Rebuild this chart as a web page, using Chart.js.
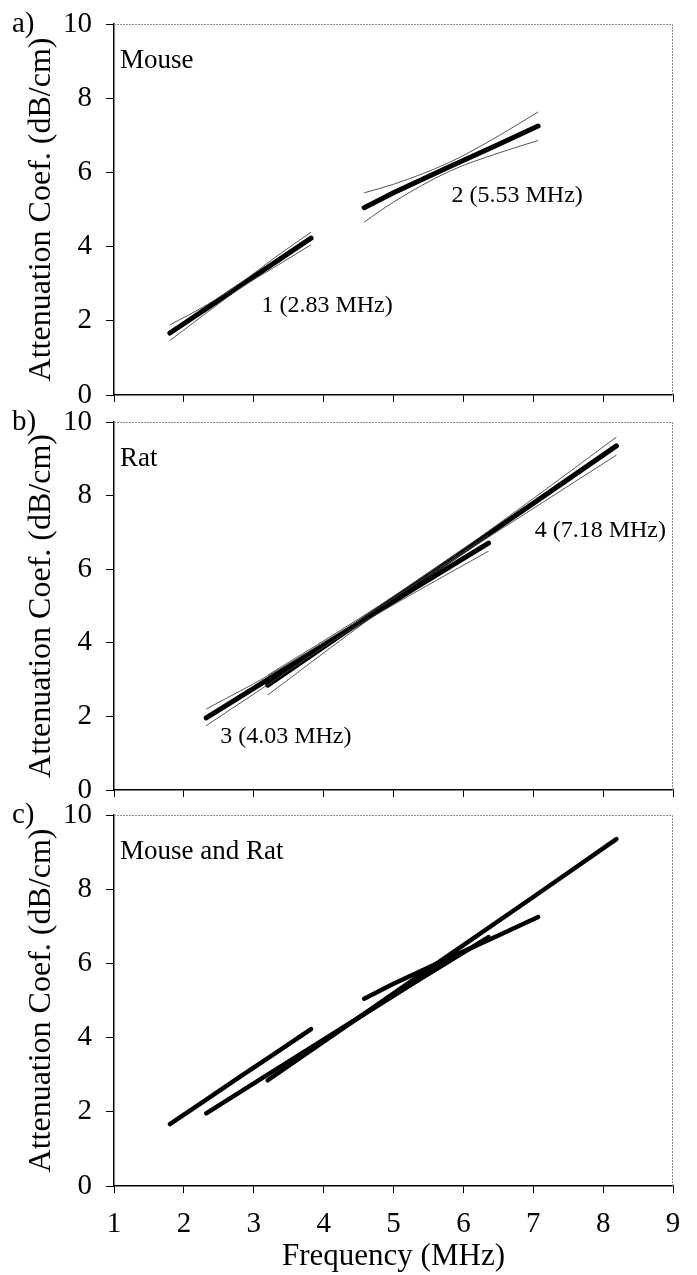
<!DOCTYPE html>
<html><head><meta charset="utf-8">
<script src="https://cdn.jsdelivr.net/npm/chart.js@4/dist/chart.umd.min.js"></script>
<style>
html,body{margin:0;padding:0;background:#fff;width:697px;height:1275px;overflow:hidden}
canvas{position:absolute;left:0}
</style></head><body>
<canvas id="ca" width="697" height="410" style="top:0px"></canvas>
<canvas id="cb" width="697" height="410" style="top:400px"></canvas>
<canvas id="cc" width="697" height="480" style="top:795px"></canvas>
<script>
// ---- data ----
const xTicks = [1, 2, 3, 4, 5, 6, 7, 8, 9];
const yTicks = [0, 2, 4, 6, 8, 10];
// Mouse, 1 (2.83 MHz)
const m1X  = [1.80, 2.30, 2.80, 3.30, 3.82];
const m1Y  = [1.67, 2.30, 2.94, 3.57, 4.23];
const m1Up = [1.89, 2.40, 3.00, 3.70, 4.39];
const m1Lo = [1.47, 2.18, 2.87, 3.45, 4.05];
// Mouse, 2 (5.53 MHz)
const m2X  = [4.58, 5.00, 5.80, 6.50, 7.07];
const m2Y  = [5.05, 5.45, 6.15, 6.75, 7.25];
const m2Up = [5.45, 5.68, 6.27, 6.98, 7.63];
const m2Lo = [4.66, 5.20, 6.03, 6.52, 6.86];
// Rat, 3 (4.03 MHz)
const r3X  = [2.32, 3.20, 4.30, 5.30, 6.36];
const r3Y  = [1.96, 3.00, 4.30, 5.48, 6.71];
const r3Up = [2.20, 3.10, 4.36, 5.58, 6.93];
const r3Lo = [1.75, 2.86, 4.25, 5.36, 6.49];
// Rat, 4 (7.18 MHz)
const r4X  = [3.20, 4.50, 5.70, 7.00, 8.19];
const r4Y  = [2.85, 4.54, 6.10, 7.79, 9.35];
const r4Up = [3.12, 4.65, 6.15, 7.92, 9.59];
const r4Lo = [2.58, 4.43, 6.05, 7.65, 9.10];

const panelNames = ['Mouse', 'Rat', 'Mouse and Rat'];
const panelTags = ['a)', 'b)', 'c)'];
const lineLabels = ['1 (2.83 MHz)', '2 (5.53 MHz)', '3 (4.03 MHz)', '4 (7.18 MHz)'];

// ---- helpers ----
const SERIF = "'Liberation Serif', 'Times New Roman', serif";
function pts(xs, ys) { return xs.map((x, i) => ({x: x, y: ys[i]})); }
function thick(xs, ys, w) {
  return {data: pts(xs, ys), borderColor: '#000', borderWidth: w, pointRadius: 0,
          borderCapStyle: 'round', tension: 0, fill: false};
}
function thin(xs, ys) {
  return {data: pts(xs, ys), borderColor: '#444', borderWidth: 0.9, pointRadius: 0,
          cubicInterpolationMode: 'monotone', fill: false};
}

const framePlugin = {
  id: 'frame',
  afterDraw(chart) {
    const {ctx, chartArea: a} = chart;
    ctx.save();
    ctx.strokeStyle = '#8a8a8a';
    ctx.lineWidth = 1;
    ctx.setLineDash([2, 1]);
    ctx.beginPath();
    ctx.moveTo(a.left, a.top + 0.5);
    ctx.lineTo(a.right - 0.5, a.top + 0.5);
    ctx.lineTo(a.right - 0.5, a.bottom);
    ctx.stroke();
    ctx.restore();
  }
};

const textPlugin = {
  id: 'texts',
  afterDraw(chart) {
    const o = chart.options.plugins.texts;
    const {ctx, chartArea: a, scales} = chart;
    ctx.save();
    ctx.fillStyle = '#000';
    ctx.textAlign = 'left';
    ctx.textBaseline = 'alphabetic';
    ctx.font = '29px ' + SERIF;
    ctx.fillText(o.tag, 12, a.top + 8);
    ctx.font = '27px ' + SERIF;
    ctx.fillText(o.name, a.left + 6, a.top + 44);
    ctx.font = '24px ' + SERIF;
    (o.notes || []).forEach(n => {
      ctx.fillText(n.text, scales.x.getPixelForValue(n.x), scales.y.getPixelForValue(n.y));
    });
    ctx.restore();
  }
};

function makeChart(id, datasets, cfg) {
  return new Chart(document.getElementById(id), {
    type: 'line',
    data: {datasets: datasets},
    plugins: [framePlugin, textPlugin],
    options: {
      responsive: false,
      animation: false,
      devicePixelRatio: 1,
      layout: {padding: {top: cfg.padTop, right: 24, left: 0, bottom: 0}},
      plugins: {legend: {display: false}, tooltip: {enabled: false},
                texts: {tag: cfg.tag, name: cfg.name, notes: cfg.notes}},
      scales: {
        x: {
          type: 'linear', min: 1, max: 9,
          afterBuildTicks: s => { s.ticks = xTicks.map(v => ({value: v})); },
          afterFit: s => { s.height = cfg.xHeight; s.paddingLeft = 0; s.paddingRight = 0; },
          grid: {drawOnChartArea: false, drawTicks: true, tickLength: 7, color: '#000', lineWidth: 1},
          border: {display: true, color: '#000', width: 1.5},
          ticks: {display: cfg.xLabels, color: '#000', padding: 14, font: {family: SERIF, size: 29}},
          title: {display: cfg.xLabels, text: 'Frequency (MHz)', color: '#000',
                  font: {family: SERIF, size: 31}, padding: {top: 0, bottom: 0}}
        },
        y: {
          type: 'linear', min: 0, max: 10,
          afterBuildTicks: s => { s.ticks = yTicks.map(v => ({value: v})); },
          afterFit: s => { s.width = 114; s.paddingTop = 0; s.paddingBottom = 0; },
          grid: {drawOnChartArea: false, drawTicks: true, tickLength: 8, color: '#000', lineWidth: 1},
          border: {display: true, color: '#000', width: 1.5},
          ticks: {color: '#000', padding: 14, font: {family: SERIF, size: 29}},
          title: {display: true, text: 'Attenuation Coef. (dB/cm)', color: '#000',
                  font: {family: SERIF, size: 32}, padding: {top: 22, bottom: 0}}
        }
      }
    }
  });
}

makeChart('ca', [
  thin(m1X, m1Up), thin(m1X, m1Lo), thick(m1X, m1Y, 5),
  thin(m2X, m2Up), thin(m2X, m2Lo), thick(m2X, m2Y, 5)
], {padTop: 24, xHeight: 15, xLabels: false, tag: panelTags[0], name: panelNames[0],
    notes: [{text: lineLabels[0], x: 3.11, y: 2.24}, {text: lineLabels[1], x: 5.83, y: 5.2}]});

makeChart('cb', [
  thin(r3X, r3Up), thin(r3X, r3Lo), thick(r3X, r3Y, 5),
  thin(r4X, r4Up), thin(r4X, r4Lo), thick(r4X, r4Y, 5)
], {padTop: 22, xHeight: 20, xLabels: false, tag: panelTags[1], name: panelNames[1],
    notes: [{text: lineLabels[3], x: 7.02, y: 6.88}, {text: lineLabels[2], x: 2.52, y: 1.28}]});

makeChart('cc', [
  thick(m1X, m1Y, 4.5), thick(m2X, m2Y, 4.5), thick(r3X, r3Y, 4.5), thick(r4X, r4Y, 4.5)
], {padTop: 20, xHeight: 89, xLabels: true, tag: panelTags[2], name: panelNames[2], notes: []});
</script>
</body></html>
